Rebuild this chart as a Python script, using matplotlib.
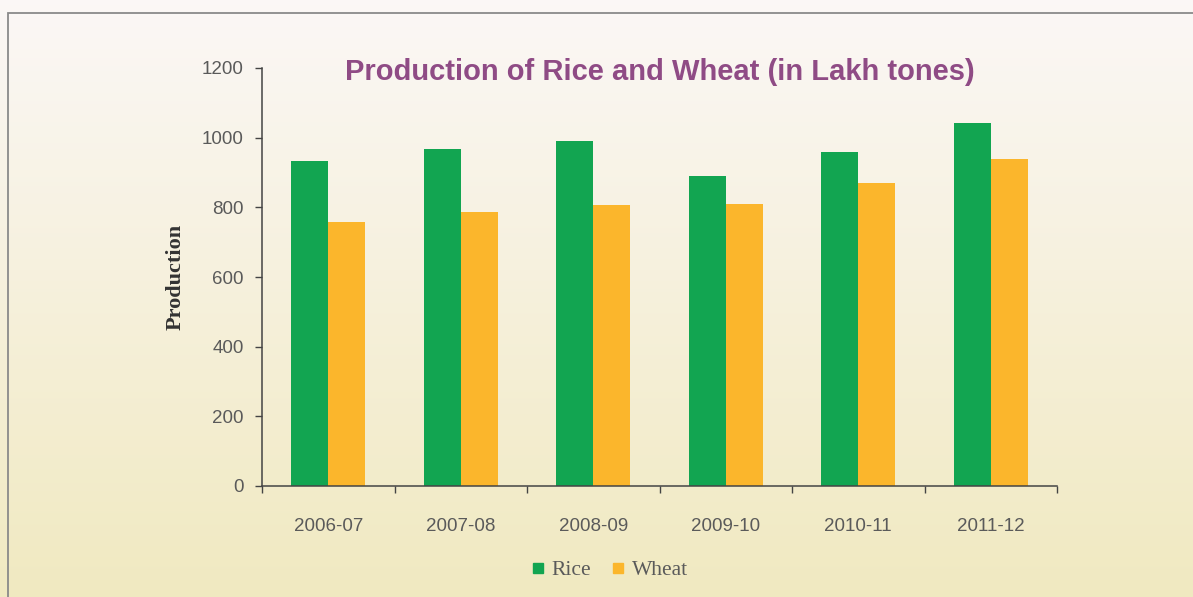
import numpy as np
import matplotlib
matplotlib.use("Agg")
import matplotlib.pyplot as plt
from matplotlib.patches import Rectangle
from matplotlib.lines import Line2D

years = ["2006-07", "2007-08", "2008-09", "2009-10", "2010-11", "2011-12"]
rice = [933, 967, 991, 891, 958, 1042]
wheat = [757, 786, 806, 810, 869, 938]
yticks = [0, 200, 400, 600, 800, 1000, 1200]

rice_color = "#12a551"
wheat_color = "#fbb62c"
text_gray = "#5a5a5a"

plt.rcParams["font.family"] = ["Liberation Sans", "DejaVu Sans"]

fig = plt.figure(figsize=(11.93, 5.97), dpi=100)

# background gradient
bg = fig.add_axes([0, 0, 1, 1], zorder=-10)
top = np.array([0.985, 0.970, 0.966])
bot = np.array([0.943, 0.915, 0.755])
t = np.linspace(0, 1, 256)[:, None, None]
grad = top * (1 - t) + bot * t
grad = np.repeat(grad, 2, axis=1)
bg.imshow(grad, aspect="auto", extent=[0, 1, 0, 1], origin="upper")
bg.set_xlim(0, 1)
bg.set_ylim(0, 1)
bg.axis("off")
bg.add_patch(Rectangle((8 / 1193, -0.05), 1.2, 1 - 13 / 597 + 0.05,
                       fill=False, edgecolor="#8a8a8a", linewidth=1.3,
                       transform=bg.transAxes))

ax = fig.add_axes([262 / 1193, 1 - 486 / 597, (1057 - 262) / 1193, (486 - 68) / 597])
ax.patch.set_alpha(0)
x = np.arange(len(years))
w = 0.28
ax.bar(x - w / 2, rice, width=w, color=rice_color, label="Rice")
ax.bar(x + w / 2, wheat, width=w, color=wheat_color, label="Wheat")

ax.set_xlim(-0.5, len(years) - 0.5)
ax.set_ylim(0, 1200)
ax.set_yticks(yticks)
ax.set_yticklabels([str(v) for v in yticks])
ax.set_xticks(x)
ax.set_xticklabels(years)
ax.set_xticks(np.arange(-0.5, len(years)), minor=True)
ax.tick_params(axis="x", which="major", length=0, pad=23, labelsize=13.5, labelcolor=text_gray)
ax.tick_params(axis="x", which="minor", length=5, width=1, color="#444444", direction="out")
ax.tick_params(axis="y", length=5, width=1, color="#444444", direction="out", pad=8,
               labelsize=13.5, labelcolor=text_gray)
for s in ["top", "right"]:
    ax.spines[s].set_visible(False)
for s in ["left", "bottom"]:
    ax.spines[s].set_color("#444444")
    ax.spines[s].set_linewidth(1.1)

ax.set_ylabel("Production", family="Liberation Serif", fontweight="bold",
              fontsize=16, color="#333333", labelpad=12)

fig.text(660 / 1193, 1 - 72 / 597, "Production of Rice and Wheat (in Lakh tones)",
         ha="center", va="center", fontsize=21, fontweight="bold",
         color="#8f4b85", family="Liberation Sans")

handles = [Line2D([], [], marker="s", linestyle="none", color=rice_color, markersize=7),
           Line2D([], [], marker="s", linestyle="none", color=wheat_color, markersize=7)]
leg = fig.legend(handles, ["Rice", "Wheat"], loc="center", bbox_to_anchor=(608 / 1193, 1 - 570 / 597),
                 ncol=2, frameon=False, prop={"family": "Liberation Serif", "size": 15.5},
                 handletextpad=0.2, columnspacing=0.8, handlelength=0.9)
for txt in leg.get_texts():
    txt.set_color(text_gray)

fig.savefig("out.png", dpi=100)
